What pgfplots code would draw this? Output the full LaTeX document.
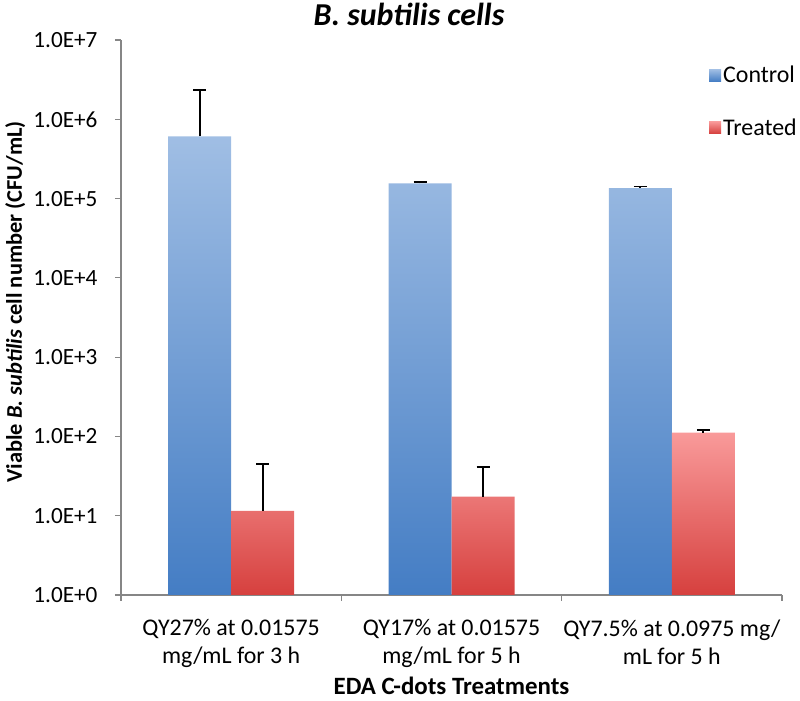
\documentclass[border=0pt]{standalone}
\usepackage{pgfplots}
\pgfplotsset{compat=1.18}
\usepackage{fontspec}
\setmainfont{Carlito}
\definecolor{ctrltop}{RGB}{160,190,228}
\definecolor{ctrlbot}{RGB}{68,125,196}
\definecolor{trttop}{RGB}{249,154,154}
\definecolor{trtbot}{RGB}{214,64,62}
\definecolor{axisgray}{RGB}{134,134,134}

\begin{document}
\begin{tikzpicture}[x=1bp,y=1bp]
\path[use as bounding box] (-121,-106) rectangle (679,595);
\begin{axis}[
    at={(0,0)}, anchor=south west,
    scale only axis,
    width=661bp, height=555bp,
    ybar=0pt, bar width=63bp,
    ymode=log, ymin=1, ymax=1e7,
    xmin=-0.5, xmax=2.5,
    ytick={1,10,100,1000,10000,100000,1000000,10000000},
    yticklabels={1.0E+0,1.0E+1,1.0E+2,1.0E+3,1.0E+4,1.0E+5,1.0E+6,1.0E+7},
    yminorticks=false,
    xtick={0,1,2},
    xticklabels={QY27\% at 0.01575\\mg/mL for 3 h,
                 QY17\% at 0.01575\\mg/mL for 5 h,
                 QY7.5\% at 0.0975 mg/\\mL for 5 h},
    xticklabel style={align=center, font=\fontsize{24}{28}\selectfont, yshift=-15bp},
    yticklabel style={font=\fontsize{23.3}{28}\selectfont, xshift=-14bp},
    minor xtick={-0.5,0.5,1.5,2.5},
    every major x tick/.append style={draw=none},
    axis x line*=bottom, axis y line*=left,
    axis line style={axisgray, line width=1.2bp, -},
    every tick/.append style={axisgray, line width=1.2bp},
    tick align=outside,
    major tick length=6bp, minor tick length=6bp,
    xlabel={\textbf{EDA C-dots Treatments}},
    xlabel style={font=\fontsize{25}{28}\selectfont, at={(axis description cs:0.5,0)}, anchor=center, yshift=-91bp},
    ylabel={\textbf{Viable \textit{B. subtilis} cell number (CFU/mL)}},
    ylabel style={font=\fontsize{22.5}{26}\selectfont, at={(axis description cs:-0.16,0.528)}, anchor=center},
    legend style={draw=none, fill=none, at={(rel axis cs:0.885,0.96)}, anchor=north west,
        font=\fontsize{24}{28}\selectfont, row sep=30bp},
    legend cell align=left,
]
% Control
\addplot[draw=none,
    top color=ctrltop, bottom color=ctrlbot,
    legend image code/.code={\shade[top color=ctrltop,bottom color=ctrlbot] (-5bp,-6bp) rectangle (7bp,6bp);},
    error bars/.cd, y dir=plus, y explicit,
    error bar style={black, line width=1.8bp},
    error mark options={black, line width=1.8bp, mark size=6.5bp, rotate=90}]
    coordinates {(0,6.1e5) +- (0,1.72e6) (1,1.55e5) +- (0,0.05e5) (2,1.35e5) +- (0,0.07e5)};
\addlegendentry{Control}
% Treated
\addplot[draw=none,
    top color=trttop, bottom color=trtbot,
    legend image code/.code={\shade[top color=trttop,bottom color=trtbot] (-5bp,-6bp) rectangle (7bp,6bp);},
    error bars/.cd, y dir=plus, y explicit,
    error bar style={black, line width=1.8bp},
    error mark options={black, line width=1.8bp, mark size=6.5bp, rotate=90}]
    coordinates {(0,11.5) +- (0,33) (1,17.4) +- (0,24) (2,112) +- (0,8)};
\addlegendentry{Treated}
\end{axis}
\node[font=\fontsize{32}{36}\selectfont\bfseries\itshape] at (288,581) {B. subtilis cells};
\end{tikzpicture}
\end{document}
